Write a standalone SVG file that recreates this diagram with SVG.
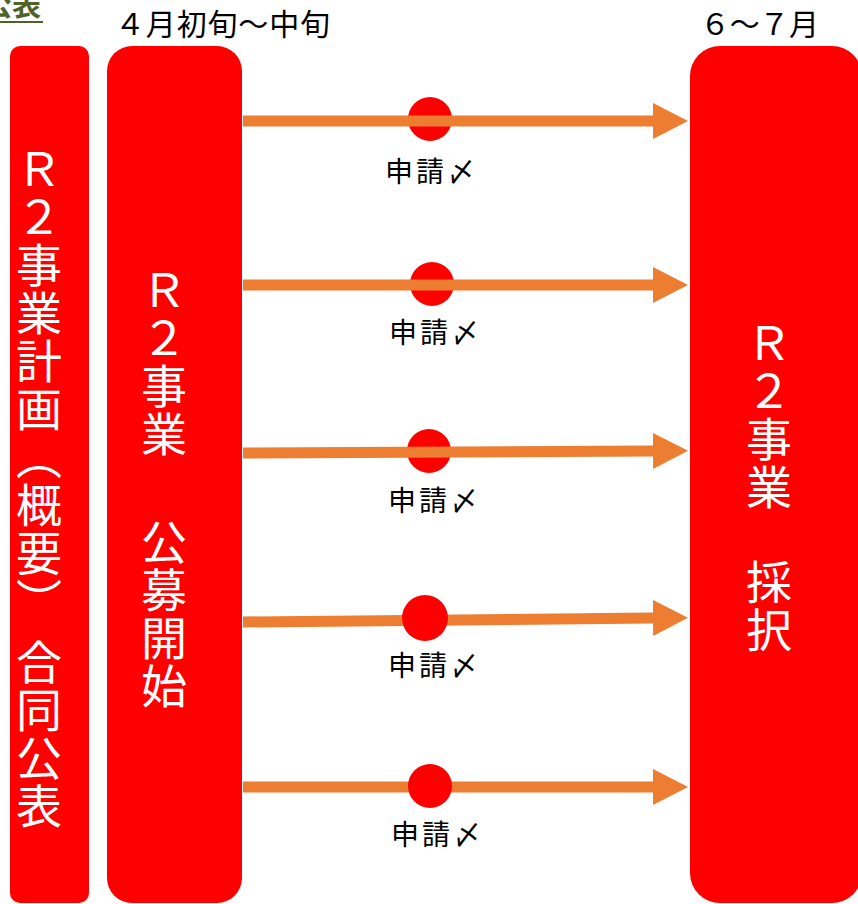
<svg xmlns="http://www.w3.org/2000/svg" width="858" height="904" viewBox="0 0 858 904">
<defs>
<style>
.box{fill:#FF0000;}
.dot{fill:#FF0000;}
.wt{font-family:"Noto Sans CJK JP","Noto Sans",sans-serif;font-size:46px;fill:#FFFFFF;writing-mode:vertical-rl;letter-spacing:2px;}
.bt{font-family:"Noto Sans CJK JP","Noto Sans",sans-serif;font-size:30px;fill:#000000;}
.lb{font-family:"Noto Sans CJK JP","Noto Sans",sans-serif;font-size:28px;fill:#000000;}
.arr{stroke:#ED7D31;stroke-width:11;fill:none;marker-end:url(#ah);}
</style>
<marker id="ah" markerUnits="userSpaceOnUse" markerWidth="36" markerHeight="36" refX="0" refY="18" orient="auto" viewBox="0 0 36 36">
<path d="M0,0 L35,18 L0,36 Z" fill="#ED7D31"/>
</marker>
</defs>
<rect width="858" height="904" fill="#FFFFFF"/>

<g id="header-left">
<text x="-17" y="16" font-family="Noto Sans CJK JP,sans-serif" font-size="29" font-weight="bold" fill="#4F6228">公表</text>
<line x1="0" y1="22" x2="43" y2="22" stroke="#4F6228" stroke-width="2"/>
</g>
<g id="label-april"><text class="bt" x="115" y="35" textLength="215">４月初旬～中旬</text></g>
<g id="label-june"><text class="bt" x="700" y="35" textLength="119">６～７月</text></g>

<g id="node-plan">
<rect class="box" x="10" y="46" width="79" height="857" rx="10" ry="10"/>
<text class="wt" x="39" y="146">Ｒ２事業計画（概要）</text>
<text class="wt" x="39" y="639">合同公表</text>
</g>

<g id="node-open">
<rect class="box" x="107" y="46" width="135" height="857" rx="25" ry="25"/>
<text class="wt" x="164" y="267">Ｒ２事業</text>
<text class="wt" x="164" y="519">公募開始</text>
</g>

<g id="node-adopt">
<rect class="box" x="690" y="46" width="172" height="857" rx="30" ry="30"/>
<text class="wt" x="769" y="320">Ｒ２事業</text>
<text class="wt" x="769" y="559">採択</text>
</g>

<g id="dots-under">
<circle class="dot" cx="430" cy="119" r="22"/>
<circle class="dot" cx="432" cy="284" r="22"/>
<circle class="dot" cx="429" cy="451" r="22"/>
</g>

<g id="connectors">
<line class="arr" x1="243" y1="121" x2="653" y2="121"/>
<line class="arr" x1="243" y1="285" x2="653" y2="285"/>
<line class="arr" x1="243" y1="453" x2="653" y2="451"/>
<line class="arr" x1="243" y1="622" x2="653" y2="618"/>
<line class="arr" x1="243" y1="787" x2="653" y2="787"/>
</g>

<g id="dots-over">
<circle class="dot" cx="425" cy="618" r="23"/>
<circle class="dot" cx="430" cy="786" r="22"/>
</g>

<g id="deadline-labels">
<text class="lb" x="385" y="182" textLength="90">申請〆</text>
<text class="lb" x="389" y="343" textLength="90">申請〆</text>
<text class="lb" x="388" y="511" textLength="90">申請〆</text>
<text class="lb" x="388" y="676" textLength="90">申請〆</text>
<text class="lb" x="391" y="845" textLength="90">申請〆</text>
</g>
</svg>
